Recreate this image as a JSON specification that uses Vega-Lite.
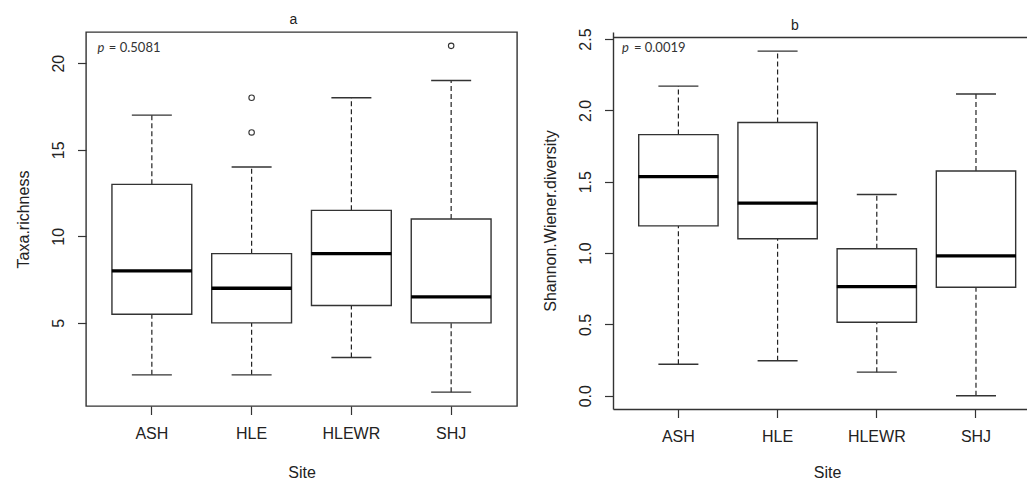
{
  "$schema": "https://vega.github.io/schema/vega-lite/v6.json",
  "background": "white",
  "padding": {"left": 14, "top": 12, "right": 0, "bottom": 0},
  "spacing": 24,
  "config": {
    "font": "Liberation Sans",
    "view": {"stroke": "#333", "strokeWidth": 1.4},
    "axis": {"labelFont": "Liberation Sans", "labelFontSize": 16, "labelColor": "#222", "titleFont": "Liberation Sans", "titleFontSize": 16, "titleFontWeight": "normal", "titleColor": "#222", "tickColor": "#333", "tickSize": 8.5, "tickWidth": 1.2, "domainColor": "#333", "domainWidth": 1.4, "grid": false},
    "title": {"font": "Liberation Sans", "fontSize": 14, "fontWeight": "normal", "color": "#222"}
  },
  "datasets": {
    "richness": [
      {"Site": "ASH", "lower": 2, "q1": 5.5, "median": 8, "q3": 13, "upper": 17},
      {"Site": "HLE", "lower": 2, "q1": 5, "median": 7, "q3": 9, "upper": 14},
      {"Site": "HLEWR", "lower": 3, "q1": 6, "median": 9, "q3": 11.5, "upper": 18},
      {"Site": "SHJ", "lower": 1, "q1": 5, "median": 6.5, "q3": 11, "upper": 19}
    ],
    "richness_out": [
      {"Site": "HLE", "value": 18},
      {"Site": "HLE", "value": 16},
      {"Site": "SHJ", "value": 21}
    ],
    "shannon": [
      {"Site": "ASH", "lower": 0.22, "q1": 1.19, "median": 1.535, "q3": 1.83, "upper": 2.17},
      {"Site": "HLE", "lower": 0.245, "q1": 1.1, "median": 1.35, "q3": 1.915, "upper": 2.415},
      {"Site": "HLEWR", "lower": 0.165, "q1": 0.515, "median": 0.765, "q3": 1.03, "upper": 1.41},
      {"Site": "SHJ", "lower": 0.0, "q1": 0.76, "median": 0.98, "q3": 1.575, "upper": 2.115}
    ]
  },
  "hconcat": [
    {
      "width": 431,
      "height": 374,
      "title": {"text": "a", "offset": 5, "dx": -8, "frame": "group"},
      "data": {"name": "richness"},
      "encoding": {
        "x": {"field": "Site", "type": "nominal", "title": "Site",
              "scale": {"type": "band", "domain": ["ASH", "HLE", "HLEWR", "SHJ"], "paddingInner": 0, "paddingOuter": 0.16},
              "axis": {"labelAngle": 0, "labelPadding": 11, "titlePadding": 23, "domain": false}}
      },
      "layer": [
        {"mark": {"type": "rule", "strokeDash": [5, 3], "color": "#222", "strokeWidth": 1.2},
         "encoding": {"y": {"field": "q3", "type": "quantitative", "title": "Taxa.richness",
                            "scale": {"domain": [0.2, 21.8], "nice": false, "zero": false},
                            "axis": {"values": [5, 10, 15, 20], "labelAngle": 270, "labelAlign": "center", "labelBaseline": "alphabetic", "labelPadding": 14, "titlePadding": 19, "domain": false}},
                      "y2": {"field": "upper"}}},
        {"mark": {"type": "rule", "strokeDash": [5, 3], "color": "#222", "strokeWidth": 1.2},
         "encoding": {"y": {"field": "lower", "type": "quantitative"}, "y2": {"field": "q1"}}},
        {"mark": {"type": "tick", "size": 40, "thickness": 1.4, "color": "#333", "opacity": 1},
         "encoding": {"y": {"field": "upper", "type": "quantitative"}}},
        {"mark": {"type": "tick", "size": 40, "thickness": 1.4, "color": "#333", "opacity": 1},
         "encoding": {"y": {"field": "lower", "type": "quantitative"}}},
        {"mark": {"type": "bar", "width": {"band": 0.8}, "fill": "white", "stroke": "#333", "strokeWidth": 1.4},
         "encoding": {"y": {"field": "q1", "type": "quantitative"}, "y2": {"field": "q3"}}},
        {"mark": {"type": "tick", "size": 80, "thickness": 3.3, "color": "#000", "opacity": 1},
         "encoding": {"y": {"field": "median", "type": "quantitative"}}},
        {"data": {"name": "richness_out"},
         "mark": {"type": "point", "shape": "circle", "size": 30, "filled": false, "stroke": "#333", "strokeWidth": 1.1, "opacity": 1},
         "encoding": {"y": {"field": "value", "type": "quantitative"}}},
        {"data": {"values": [{"label": "p"}]},
         "mark": {"type": "text", "align": "left", "baseline": "alphabetic", "font": "Lato", "fontSize": 13, "fontStyle": "italic", "color": "#333", "dx": -54.4, "dy": 5.9},
         "encoding": {"x": {"datum": "ASH"}, "y": {"datum": 21}, "text": {"field": "label"}}},
        {"data": {"values": [{"label": "= 0.5081"}]},
         "mark": {"type": "text", "align": "left", "baseline": "alphabetic", "font": "Lato", "fontSize": 13, "color": "#333", "dx": -43, "dy": 5.9},
         "encoding": {"x": {"datum": "ASH"}, "y": {"datum": 21}, "text": {"field": "label"}}}
      ]
    },
    {
      "width": 414,
      "height": 377,
      "view": {"stroke": null},
      "title": {"text": "b", "offset": -4.7, "dx": -25, "frame": "group"},
      "data": {"name": "shannon"},
      "encoding": {
        "x": {"field": "Site", "type": "nominal", "title": "Site",
              "scale": {"type": "band", "domain": ["ASH", "HLE", "HLEWR", "SHJ"], "paddingInner": 0, "paddingOuter": 0.0867, "align": 0.918},
              "axis": null}
      },
      "resolve": {"axis": {"x": "independent"}},
      "layer": [
        {"mark": {"type": "rule", "strokeDash": [5, 3], "color": "#222", "strokeWidth": 1.2},
         "encoding": {"y": {"field": "q3", "type": "quantitative", "title": "Shannon.Wiener.diversity",
                            "scale": {"domain": [-0.0932, 2.5491], "nice": false, "zero": false},
                            "axis": {"values": [0, 0.5, 1, 1.5, 2, 2.5], "format": ".1f", "labelAngle": 270, "labelAlign": "center", "labelBaseline": "alphabetic", "labelPadding": 14, "titlePadding": 19, "domain": true}},
                      "y2": {"field": "upper"}}},
        {"mark": {"type": "rule", "strokeDash": [5, 3], "color": "#222", "strokeWidth": 1.2},
         "encoding": {"y": {"field": "lower", "type": "quantitative"}, "y2": {"field": "q1"}}},
        {"mark": {"type": "tick", "size": 40, "thickness": 1.4, "color": "#333", "opacity": 1},
         "encoding": {"y": {"field": "upper", "type": "quantitative"}}},
        {"mark": {"type": "tick", "size": 40, "thickness": 1.4, "color": "#333", "opacity": 1},
         "encoding": {"y": {"field": "lower", "type": "quantitative"}}},
        {"mark": {"type": "bar", "width": {"band": 0.8}, "fill": "white", "stroke": "#333", "strokeWidth": 1.4},
         "encoding": {"x": {"field": "Site", "type": "nominal", "title": "Site",
                            "axis": {"labelAngle": 0, "labelPadding": 11, "titlePadding": 20, "domain": true, "titleX": 214}},
                      "y": {"field": "q1", "type": "quantitative"}, "y2": {"field": "q3"}}},
        {"mark": {"type": "tick", "size": 80, "thickness": 3.3, "color": "#000", "opacity": 1},
         "encoding": {"x": {"field": "Site", "type": "nominal",
                            "axis": {"orient": "top", "labels": false, "ticks": false, "domain": true, "title": null, "offset": -5}},
                      "y": {"field": "median", "type": "quantitative"}}},
        {"data": {"values": [{"label": "p"}]},
         "mark": {"type": "text", "align": "left", "baseline": "alphabetic", "font": "Lato", "fontSize": 13, "fontStyle": "italic", "color": "#333", "dx": -56.5, "dy": 13},
         "encoding": {"x": {"datum": "ASH"}, "y": {"datum": 2.5}, "text": {"field": "label"}}},
        {"data": {"values": [{"label": "= 0.0019"}]},
         "mark": {"type": "text", "align": "left", "baseline": "alphabetic", "font": "Lato", "fontSize": 13, "color": "#333", "dx": -44.5, "dy": 13},
         "encoding": {"x": {"datum": "ASH"}, "y": {"datum": 2.5}, "text": {"field": "label"}}}
      ]
    }
  ]
}
